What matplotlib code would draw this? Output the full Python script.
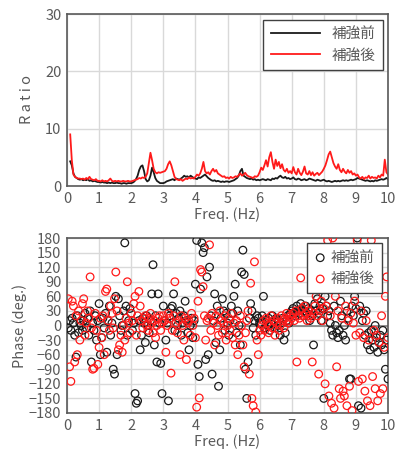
import numpy as np
import matplotlib.pyplot as plt

plt.rcParams['font.family'] = ['Noto Sans CJK JP', 'DejaVu Sans']

# ---- 振幅比 (Ratio), 0.10 - 10.00 Hz, 0.05 Hz 刻み ----
freq_line = np.arange(2, 201) * 0.05

ratio_before = [
    4.3, 3.6, 2.2, 1.6, 1.4, 1.2, 1.1, 1.2, 1.0, 1.1, 1.0, 1.2, 0.9, 1.0, 0.8, 0.9, 0.8, 0.7,
    0.7, 0.6, 0.7, 0.6, 0.6, 0.5, 0.6, 0.5, 0.6, 0.5, 0.5, 0.6, 0.5, 0.5, 0.4, 0.5, 0.5, 0.4, 0.5, 0.5,
    0.5, 0.6, 0.8, 1.2, 1.8, 2.8, 3.4, 3.6, 2.6, 1.2, 0.8, 1.0, 1.8, 3.2, 2.4, 1.4, 0.9, 0.7, 0.5, 0.5,
    0.5, 0.6, 0.8, 0.9, 1.0, 1.1, 1.2, 1.0, 1.3, 1.2, 1.1, 1.3, 1.5, 1.8, 1.6, 1.7, 1.5, 1.8, 1.6, 1.4,
    1.3, 1.2, 1.5, 1.4, 1.6, 1.8, 2.0, 1.7, 1.4, 1.2, 1.0, 0.9, 1.0, 0.8, 0.9, 0.8, 0.7, 0.8, 0.7, 0.8,
    0.8, 0.7, 0.8, 0.9, 1.0, 1.2, 1.4, 1.8, 2.6, 3.0, 1.8, 1.6, 1.4, 1.3, 1.2, 1.3, 1.1, 1.2, 1.0, 1.1,
    1.0, 1.1, 1.2, 1.1, 1.0, 1.2, 1.1, 1.0, 1.3, 1.2, 1.4, 1.3, 1.6, 1.8, 1.5, 1.4, 1.6, 1.3, 1.4, 1.2,
    1.3, 1.5, 1.2, 1.1, 1.3, 1.2, 1.0, 1.1, 1.2, 1.0, 1.1, 1.3, 1.2, 1.1, 1.0, 0.9, 1.1, 1.0, 0.9, 1.0,
    1.1, 0.9, 0.8, 0.9, 0.8, 0.7, 0.8, 0.9, 0.8, 0.9, 0.8, 0.9, 1.0, 0.9, 1.0, 0.9, 1.0, 1.1, 1.0, 1.1,
    1.2, 1.4, 1.3, 1.2, 1.1, 1.0, 0.9, 1.0, 0.9, 0.8, 0.9, 0.8, 1.0, 0.9, 1.0, 1.1, 1.2, 1.1, 1.2, 1.4, 1.2,
]

ratio_after = [
    9.0, 4.5, 2.0, 1.6, 1.4, 1.3, 1.3, 1.2, 1.3, 1.1, 1.4, 1.2, 1.6, 1.2, 1.1, 1.0, 1.2, 0.9,
    0.9, 0.8, 1.0, 0.8, 0.9, 0.8, 1.0, 1.3, 0.9, 0.8, 0.9, 0.8, 0.9, 0.8, 0.8, 0.9, 0.8, 0.8, 0.9, 0.8,
    0.8, 0.9, 1.0, 1.1, 1.2, 1.4, 1.3, 1.5, 1.4, 1.6, 2.2, 4.0, 5.8, 4.5, 3.0, 2.4, 2.2, 2.4, 2.3, 2.4,
    2.5, 2.6, 3.0, 3.8, 4.3, 3.6, 2.6, 1.6, 1.2, 1.1, 1.0, 1.2, 0.9, 1.1, 1.3, 1.2, 1.5, 1.3, 1.4, 1.3,
    1.6, 2.0, 1.8, 2.2, 3.0, 4.2, 2.6, 2.2, 2.4, 2.0, 2.6, 3.0, 2.5, 2.8, 2.2, 2.0, 1.8, 1.6, 1.7, 1.4,
    1.5, 1.3, 1.6, 1.4, 1.5, 1.7, 1.6, 1.9, 2.2, 1.8, 2.0, 2.3, 1.9, 1.7, 1.6, 1.5, 1.4, 1.7, 1.6, 1.8,
    2.4, 3.2, 2.8, 3.6, 4.5, 3.4, 5.0, 5.9, 4.2, 3.0, 4.6, 3.5, 4.2, 3.1, 3.8, 2.8, 2.5, 3.0, 2.3, 2.6,
    2.2, 3.3, 2.4, 2.0, 3.0, 2.3, 1.9, 2.5, 3.4, 2.2, 2.0, 2.6, 1.9, 2.4, 1.8, 2.1, 2.3, 1.9, 2.2, 2.5,
    3.0, 3.6, 4.5, 5.5, 6.0, 5.0, 4.0, 3.4, 3.0, 3.8, 2.8, 2.4, 3.0, 2.5, 2.2, 2.8, 2.3, 2.6, 2.0, 2.2,
    1.8, 2.0, 1.5, 1.3, 1.6, 1.2, 1.5, 1.4, 1.8, 1.3, 1.6, 1.4, 1.5, 1.3, 1.8, 1.5, 2.0, 1.8, 4.6, 2.4, 2.0,
]

# ---- 位相 (Phase), 0.04 - 10.00 Hz, 0.04 Hz 刻み ----
freq_pt = np.arange(1, 251) * 0.04

phase_before = [
    -5, 10, -10, 15, 5, -20, -65, 20, -15, 5, 0, -10, 10, 25, -5, 15, -20, 30, -75, 5, -10, 20, -30, 10, 45,
    -60, -25, 15, -5, 25, -55, 10, 40, -20, 5, -90, -100, 60, -60, 55, 20, -10, 0, 30, 170, 40, -20, 10, 35, 25,
    -10, 5, -140, -160, -155, 10, -50, -20, 15, 5, -35, 20, 0, -15, 10, 65, 125, -40, 20, -75, 65, 5, -78, -140, 40,
    10, -30, 5, -155, 20, 35, 40, 65, -10, 25, 0, 15, 30, -20, 5, 20, 50, 10, -15, -50, 0, 15, -25, 10, 85,
    175, -80, -105, 75, 170, 150, 160, -70, 100, -60, 120, 20, -100, 10, 65, -35, 40, -125, -50, 15, 55, 30, -10, 25, 5,
    -20, 10, 40, 25, 60, 85, -15, 30, 0, -40, 110, 155, 105, -90, -150, -75, 15, 45, 30, -5, 10, -20, 20, 15, 5,
    5, 20, 60, -5, 10, 0, 15, -10, 5, 20, 10, -5, 15, 0, 10, -20, 5, 15, -30, -15, 10, 20, 5, 25, 30,
    35, 25, 20, 40, 30, 25, 45, 35, 20, 30, 40, 25, 35, 10, 30, 20, -40, 45, 30, 55, 25, 40, 10, 35, -150,
    60, 40, 20, 30, 5, -10, -20, 40, 0, -15, -25, -10, 50, 20, -20, 0, -30, 30, 15, -110, -110, 40, 20, 60, 35,
    180, -165, 40, -170, 10, 25, -20, 30, -40, -15, -50, -10, -30, -45, 0, -25, -55, -35, -20, -40, -10, -50, -90, -30, -110,
]

phase_after = [
    55, -85, -115, 50, 40, -75, 20, -60, 30, -30, 10, 45, 55, -20, 5, 30, 15, 100, -5, -90, -88, 25, -10, -80, -45,
    15, -25, 20, -60, 70, 75, 10, -10, 40, 25, -5, 55, 110, 30, -50, -40, -20, -55, 0, -30, 15, 90, 5, -15, 25,
    10, 45, 60, -20, 20, 70, 40, 10, -5, 15, 20, 0, -10, 15, 25, 5, -15, 10, -25, 0, 15, 20, -10, 5, 20,
    10, -55, 0, 25, 15, -98, -10, 20, 90, 5, -15, 10, -60, 20, 0, -30, 15, -70, 5, 10, -20, 25, 0, 15, -25,
    -168, 50, -149, 115, 110, 80, 20, -30, 10, 15, 166, -10, 25, 5, -40, 20, 0, -20, 30, 10, -15, 5, 20, -30, 0,
    15, -10, 25, -25, 5, -40, 10, -60, -20, 20, 0, -40, -85, -15, 10, 30, -100, 87, -150, -165, 131, -178, -30, -60, -10,
    -20, 0, 10, -10, 15, 5, -15, 0, 20, -5, 10, -20, 5, 15, -10, 0, 20, 10, -5, 15, 25, 5, 10, 20, 15,
    25, 10, 30, -75, 20, 15, 98, 35, 20, 40, 25, 10, 30, 20, 15, -75, 25, 40, 60, 20, -100, 30, 50, 10, 35,
    -120, 40, 175, -145, 20, -160, 180, -170, 60, -85, 30, -130, -150, 15, -135, -145, 40, -165, 10, -125, 25, -175, 5, 50, -20,
    175, -115, -15, 30, -110, -25, -135, 10, -155, -30, -165, 175, -105, -10, -130, -20, -155, -35, -140, 20, -130, -45, 60, 100, -25,
]

labels = ['補強前', '補強後']
c_before = '#1a1a1a'
c_after = '#ff1a1a'
txt = '#595959'
grid_c = '#d9d9d9'

fig = plt.figure(figsize=(3.95, 4.59), dpi=100)
ax1 = fig.add_axes([67/395, 1-186/459, 321/395, 172/459])
ax2 = fig.add_axes([67/395, 1-413/459, 321/395, 175/459])

# 上段: 振幅比
ax1.plot(freq_line, ratio_before, color=c_before, lw=1.3, label=labels[0])
ax1.plot(freq_line, ratio_after, color=c_after, lw=1.3, label=labels[1])
ax1.set_xlim(0, 10)
ax1.set_ylim(0, 30)
ax1.set_xticks(range(0, 11))
ax1.set_yticks([0, 10, 20, 30])
ax1.set_xlabel('Freq. (Hz)', color=txt, fontsize=10.5, labelpad=1)
ax1.set_ylabel('R a t i o', color=txt, fontsize=10.5, labelpad=8)
leg = ax1.legend(loc='upper right', bbox_to_anchor=(0.985, 0.965), borderaxespad=0,
                 fontsize=10.5, fancybox=False, framealpha=1, edgecolor='#404040',
                 handlelength=3.4, borderpad=0.5, labelcolor=txt)
leg.get_frame().set_linewidth(1.0)

# 下段: 位相
ax2.scatter(freq_pt, phase_before, s=30, facecolors='none', edgecolors=c_before,
            linewidths=0.9, label=labels[0], zorder=3)
ax2.scatter(freq_pt, phase_after, s=30, facecolors='none', edgecolors=c_after,
            linewidths=0.9, label=labels[1], zorder=3)
ax2.axhline(0, color='#808080', lw=1.2, zorder=2)
ax2.set_xlim(0, 10)
ax2.set_ylim(-180, 180)
ax2.set_xticks(range(0, 11))
ax2.set_yticks(range(-180, 181, 30))
ax2.set_xlabel('Freq. (Hz)', color=txt, fontsize=10.5, labelpad=1)
ax2.set_ylabel('Phase (deg.)', color=txt, fontsize=10.5, labelpad=1)
leg2 = ax2.legend(loc='upper right', bbox_to_anchor=(0.98, 0.97), borderaxespad=0,
                  fontsize=10.5, fancybox=False, framealpha=1, edgecolor='#404040',
                  handlelength=0.8, handletextpad=0.3, borderpad=0.5,
                  labelcolor=txt, scatterpoints=1)
leg2.get_frame().set_linewidth(1.0)
leg2.set_zorder(5)

for ax in (ax1, ax2):
    ax.grid(True, color=grid_c, lw=1.0, zorder=0)
    ax.set_axisbelow(True)
    ax.tick_params(length=0, labelsize=10.5, labelcolor=txt, pad=4)
    for sp in ax.spines.values():
        sp.set_color('#595959')
        sp.set_linewidth(1.2)

fig.savefig('out.png', dpi=100)
